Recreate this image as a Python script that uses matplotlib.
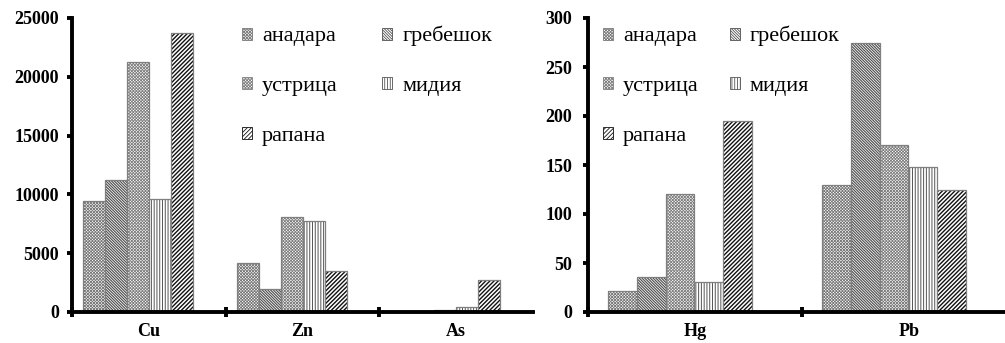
import matplotlib
matplotlib.use("Agg")
import matplotlib.pyplot as plt
from matplotlib.patches import Patch

plt.rcParams["font.family"] = ["Liberation Serif", "DejaVu Serif"]
plt.rcParams["hatch.linewidth"] = 0.6

SPECIES = ["анадара", "гребешок", "устрица", "мидия", "рапана"]
HATCHES = ["x" * 11, "\\" * 12, "x" * 11, "|" * 6, "/" * 8]
HATCH_COLORS = ["#7a7a7a", "#505050", "#808080", "#555555", "#111111"]
HATCH_WIDTHS = [0.6, 0.85, 0.6, 0.7, 1.0]

LEFT_ELEMENTS = ["Cu", "Zn", "As"]
LEFT_VALUES = {
    "анадара": [9400, 4200, 0],
    "гребешок": [11200, 1950, 0],
    "устрица": [21300, 8050, 200],
    "мидия": [9650, 7700, 450],
    "рапана": [23700, 3450, 2700],
}
LEFT_YTICKS = [0, 5000, 10000, 15000, 20000, 25000]

RIGHT_ELEMENTS = ["Hg", "Pb"]
RIGHT_VALUES = {
    "анадара": [21, 130],
    "гребешок": [36, 274],
    "устрица": [120, 170],
    "мидия": [31, 148],
    "рапана": [195, 124],
}
RIGHT_YTICKS = [0, 50, 100, 150, 200, 250, 300]

W, H = 1005, 343


def set_hatch_lw(patch, lw):
    # per-patch hatch width where the matplotlib version supports it
    if hasattr(patch, "set_hatch_linewidth"):
        patch.set_hatch_linewidth(lw)


def draw_panel(ax, elements, values, yticks, bar_w, offset, label_pad):
    n = len(elements)
    for k, sp in enumerate(SPECIES):
        xs = [i + offset + k * bar_w for i in range(n)]
        bars = ax.bar(xs, values[sp], width=bar_w, align="edge", color="white",
                      edgecolor=HATCH_COLORS[k], hatch=HATCHES[k], linewidth=0)
        for b in bars:
            set_hatch_lw(b, HATCH_WIDTHS[k])
        ax.bar(xs, values[sp], width=bar_w, align="edge", fill=False,
               edgecolor="#7f7f7f", linewidth=0.9)

    ax.set_xlim(0, n)
    ax.set_ylim(0, yticks[-1])
    for s in ("top", "right"):
        ax.spines[s].set_visible(False)
    for s in ("left", "bottom"):
        ax.spines[s].set_linewidth(2.8)

    ax.set_yticks(yticks)
    ax.set_yticklabels([str(t) for t in yticks], fontweight="bold", fontsize=13)
    ax.tick_params(axis="y", direction="out", length=3.5, width=2.8, pad=label_pad)

    ax.set_xticks(range(n))
    ax.set_xticklabels([])
    ax.tick_params(axis="x", which="major", direction="inout", length=6.5, width=2.8)
    ax.set_xticks([i + 0.5 for i in range(n)], minor=True)
    ax.set_xticklabels(elements, minor=True, fontweight="bold", fontsize=13)
    ax.tick_params(axis="x", which="minor", length=0, pad=8)


def add_legend(fig, x_px, y_px, colspacing):
    order = [0, 2, 4, 1, 3]
    handles = []
    for k in order:
        p = Patch(facecolor="white", edgecolor=HATCH_COLORS[k],
                  hatch=HATCHES[k], linewidth=0.6)
        set_hatch_lw(p, HATCH_WIDTHS[k])
        handles.append(p)
    labels = [SPECIES[k] for k in order]
    fig.legend(handles, labels, ncol=2, frameon=False, loc="upper left",
               bbox_to_anchor=(x_px / W, 1 - y_px / H),
               bbox_transform=fig.transFigure, fontsize=16,
               handlelength=0.45, handleheight=0.45, handletextpad=0.45,
               labelspacing=1.38, columnspacing=colspacing,
               borderpad=0, borderaxespad=0)


fig = plt.figure(figsize=(W / 100, H / 100), dpi=100)

ax1 = fig.add_axes([72 / W, 31 / H, 461 / W, 294 / H])
draw_panel(ax1, LEFT_ELEMENTS, LEFT_VALUES, LEFT_YTICKS,
           bar_w=22 / 153.7, offset=11 / 153.7, label_pad=6)

ax2 = fig.add_axes([588 / W, 31 / H, 428 / W, 294 / H])
draw_panel(ax2, RIGHT_ELEMENTS, RIGHT_VALUES, RIGHT_YTICKS,
           bar_w=28.8 / 214, offset=20 / 214, label_pad=8)

add_legend(fig, 242, 26, 2.0)
add_legend(fig, 603, 26, 1.4)

fig.savefig("out.png", dpi=100)
